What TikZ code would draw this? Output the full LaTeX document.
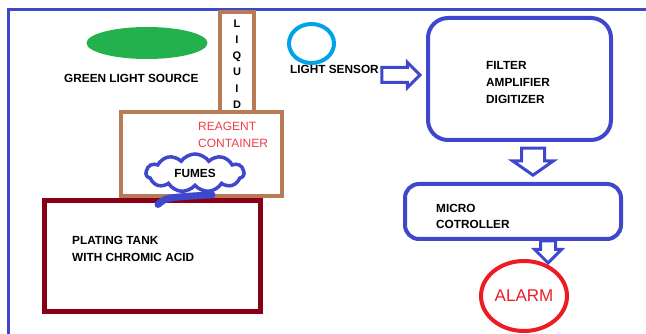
\documentclass[tikz,border=0pt]{standalone}
\usepackage{fontspec}
\setmainfont{Liberation Sans}
\usetikzlibrary{shapes.geometric, shapes.symbols, shapes.arrows, positioning, calc}

\definecolor{paintblue}{HTML}{3F48CC}
\definecolor{paintbrown}{HTML}{B97A57}
\definecolor{tankred}{HTML}{880015}
\definecolor{skyblue}{HTML}{00A2E8}
\definecolor{paintred}{HTML}{ED1C24}
\definecolor{paintgreen}{HTML}{22B14C}

\tikzset{
    lbl/.style={font=\bfseries\fontsize{11.8}{17}\selectfont, align=left, inner sep=0pt},
    redlbl/.style={font=\fontsize{12}{17}\selectfont, text=paintred!85!white, align=left, inner sep=0pt},
    blockarrow/.style={draw=paintblue, line width=3pt, single arrow, single arrow head indent=0pt, inner sep=0pt, text width=0pt}
}

\begin{document}
\begin{tikzpicture}[x=1pt, y=-1pt]
        \useasboundingbox (0,0) rectangle (646,334);

        % Frame
        \draw[paintblue, line width=3pt] (8,336) -- (8,10) -- (648,10);

        % Nodes
        \node[fill=paintgreen, ellipse, minimum width=121pt, minimum height=32pt, inner sep=0pt] (source) at (147,43) {};
        \node[lbl, anchor=west] (sourcelbl) at (64,78) {GREEN LIGHT SOURCE};

        \node[draw=paintbrown, line width=4pt, fill=white, minimum width=34pt, minimum height=100pt, inner sep=0pt] (tube) at (237,62) {};
        \node[lbl, align=center, font=\bfseries\fontsize{11}{16.2}\selectfont] (liquid) at (237,64) {L\\I\\Q\\U\\I\\D};

        \node[draw=paintbrown, line width=4.5pt, minimum width=161pt, minimum height=84pt, inner sep=0pt] (reagent) at (201.5,154) {};
        \node[redlbl, anchor=west] (reagentlbl) at (198,134.5) {REAGENT\\CONTAINER};

        \node[draw=tankred, line width=5pt, minimum width=216pt, minimum height=110pt, inner sep=0pt] (tank) at (152,256) {};
        \node[lbl, anchor=west] (tanklbl) at (72,248.5) {PLATING TANK\\WITH CHROMIC ACID};

        \node[draw=paintblue, line width=3.5pt, cloud, cloud puffs=11, cloud puff arc=110, aspect=2.6, minimum width=98pt, minimum height=38pt, inner sep=0pt, lbl] (fumes) at (195,173) {FUMES};

        \node[draw=skyblue, line width=4pt, ellipse, minimum width=45pt, minimum height=39pt] (sensor) at (311.5,43.5) {};
        \node[lbl, anchor=west] (sensorlbl) at (290,69) {LIGHT SENSOR};

        \node[draw=paintblue, line width=4pt, rounded corners=20pt, minimum width=183pt, minimum height=122pt] (filter) at (519.5,79) {};
        \node[lbl, anchor=west] (filterlbl) at (486,82) {FILTER\\AMPLIFIER\\DIGITIZER};

        \node[draw=paintblue, line width=4pt, rounded corners=14pt, minimum width=216pt, minimum height=55pt] (micro) at (513,211.5) {};
        \node[lbl, anchor=west, font=\bfseries\fontsize{11.8}{16}\selectfont] (microlbl) at (436,216) {MICRO\\COTROLLER};

        \node[draw=paintred, line width=4pt, ellipse, minimum width=86pt, minimum height=70pt, inner sep=0pt,
              font=\fontsize{17}{20}\selectfont, text=paintred] (alarm) at (524,296) {ALARM};

        % Edges
        \draw[paintblue, line width=7pt, line cap=round] ($(tank.north)+(6,6)$) .. controls ($(tank.north)+(14,-1)$) .. ($(fumes.south)+(17,7)$);

        \node[blockarrow, minimum height=38pt, minimum width=21pt, single arrow head extend=5pt, inner ysep=6pt, anchor=tip] (a1) at ($(filter.west |- sensorlbl)+(-4,6)$) {};
        \node[blockarrow, rotate=-90, single arrow tip angle=110, minimum height=27pt, minimum width=37pt, single arrow head extend=9pt, inner ysep=10pt, anchor=tip] (a2) at ($(micro.north)+(20,-5)$) {};
        \node[blockarrow, rotate=-90, minimum height=22pt, minimum width=24pt, single arrow head extend=6pt, inner ysep=6pt, anchor=tip] (a3) at ($(micro.south)+(35,24)$) {};
    \end{tikzpicture}
\end{document}
